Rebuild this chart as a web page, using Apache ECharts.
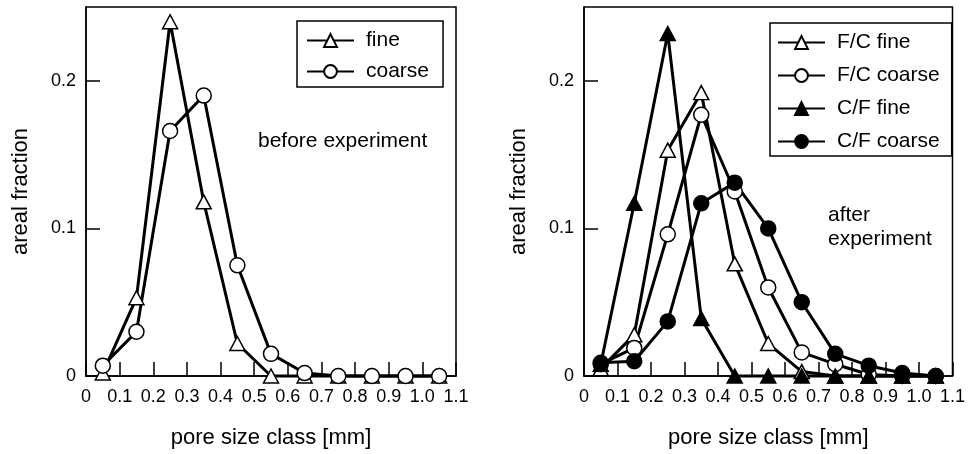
<!DOCTYPE html>
<html>
<head>
<meta charset="utf-8">
<script src="https://cdn.jsdelivr.net/npm/echarts@6/dist/echarts.min.js"></script>
<style>
html, body { margin: 0; padding: 0; background: #fff; }
#main { width: 968px; height: 454px; }
</style>
</head>
<body>
<div id="main"></div>
<script>
// pore size classes (class centres, mm)
var poreClass = [0.05, 0.15, 0.25, 0.35, 0.45, 0.55, 0.65, 0.75, 0.85, 0.95, 1.05];

// before experiment
var beforeFine   = [0.002, 0.053, 0.240, 0.118, 0.022, 0, 0, 0, 0, 0, 0];
var beforeCoarse = [0.007, 0.030, 0.166, 0.190, 0.075, 0.015, 0.002, 0, 0, 0, 0];

// after experiment
var fcFine   = [0.005, 0.028, 0.153, 0.192, 0.076, 0.022, 0.003, 0, 0, 0, 0];
var fcCoarse = [0.008, 0.019, 0.096, 0.177, 0.125, 0.060, 0.016, 0.008, 0.001, 0, 0];
var cfFine   = [0.008, 0.117, 0.232, 0.039, 0, 0, 0, 0, 0, 0, 0];
var cfCoarse = [0.009, 0.010, 0.037, 0.117, 0.131, 0.100, 0.050, 0.015, 0.007, 0.002, 0];

var FONT = "'Liberation Sans', Arial, sans-serif";

function pairs(ys) {
	var out = [];
	for (var i = 0; i < poreClass.length; i++) out.push([poreClass[i], ys[i]]);
	return out;
}

function makeX(idx) {
	return {
		type: 'value', gridIndex: idx, min: 0, max: 1.1, interval: 0.1,
		name: 'pore size class [mm]', nameLocation: 'middle', nameGap: 51,
		nameTextStyle: { fontFamily: FONT, fontSize: 22, color: '#000' },
		axisLine: { lineStyle: { color: '#000', width: 1.5 } },
		axisTick: { inside: true, length: 14, lineStyle: { color: '#000', width: 1.5 } },
		axisLabel: {
			margin: 12, fontFamily: FONT, fontSize: 18, color: '#000',
			formatter: function (v) { return v === 0 ? '0' : v.toFixed(1); }
		},
		splitLine: { show: false }
	};
}

function makeY(idx) {
	return {
		type: 'value', gridIndex: idx, min: 0, max: 0.25, interval: 0.1,
		name: 'areal fraction', nameLocation: 'middle', nameGap: 54,
		nameTextStyle: { fontFamily: FONT, fontSize: 22, color: '#000' },
		axisLine: { show: true, lineStyle: { color: '#000', width: 1.5 } },
		axisTick: { inside: true, length: 14, lineStyle: { color: '#000', width: 1.5 } },
		axisLabel: {
			margin: 10, fontFamily: FONT, fontSize: 18, color: '#000', showMaxLabel: false,
			formatter: function (v) { return v === 0 ? '0' : v.toFixed(1); }
		},
		splitLine: { show: false }
	};
}

function makeSeries(name, idx, ys, symbol, filled) {
	return {
		name: name, type: 'line', xAxisIndex: idx, yAxisIndex: idx,
		data: pairs(ys), clip: false,
		symbol: symbol, symbolSize: symbol === 'triangle' ? [15, 14] : 15,
		showAllSymbol: true,
		lineStyle: { color: '#000', width: 3 },
		itemStyle: { color: filled ? '#000' : '#fff', borderColor: '#000', borderWidth: 1.5 },
		emphasis: { disabled: true }
	};
}

function makeLegend(names, left, top, pad, gap) {
	return {
		data: names, orient: 'vertical', left: left, top: top,
		padding: pad, itemGap: gap, itemWidth: 47, itemHeight: 16,
		borderColor: '#000', borderWidth: 1.5, selectedMode: false,
		textStyle: { fontFamily: FONT, fontSize: 21, color: '#000', padding: [0, 0, 0, 7] }
	};
}

var chart = echarts.init(document.getElementById('main'));
chart.setOption({
	animation: false,
	backgroundColor: '#fff',
	grid: [
		{ left: 86, top: 7, width: 370, height: 370, show: true, borderColor: '#000', borderWidth: 1.5 },
		{ left: 584, top: 7, width: 370, height: 370, show: true, borderColor: '#000', borderWidth: 1.5 }
	],
	xAxis: [makeX(0), makeX(1)],
	yAxis: [makeY(0), makeY(1)],
	legend: [
		makeLegend(['fine', 'coarse'], 297, 21, [9, 14, 5, 9], 10),
		makeLegend(['F/C fine', 'F/C coarse', 'C/F fine', 'C/F coarse'], 770, 23, [9, 12, 4, 7], 12)
	],
	graphic: [
		{ type: 'text', left: 258, top: 131, style: { text: 'before experiment', font: '21px ' + FONT, fill: '#000' } },
		{ type: 'text', left: 828, top: 203, style: { text: 'after\nexperiment', font: '21px ' + FONT, fill: '#000', lineHeight: 24 } }
	],
	series: [
		makeSeries('fine', 0, beforeFine, 'triangle', false),
		makeSeries('coarse', 0, beforeCoarse, 'circle', false),
		makeSeries('F/C fine', 1, fcFine, 'triangle', false),
		makeSeries('F/C coarse', 1, fcCoarse, 'circle', false),
		makeSeries('C/F fine', 1, cfFine, 'triangle', true),
		makeSeries('C/F coarse', 1, cfCoarse, 'circle', true)
	]
});
</script>
</body>
</html>
